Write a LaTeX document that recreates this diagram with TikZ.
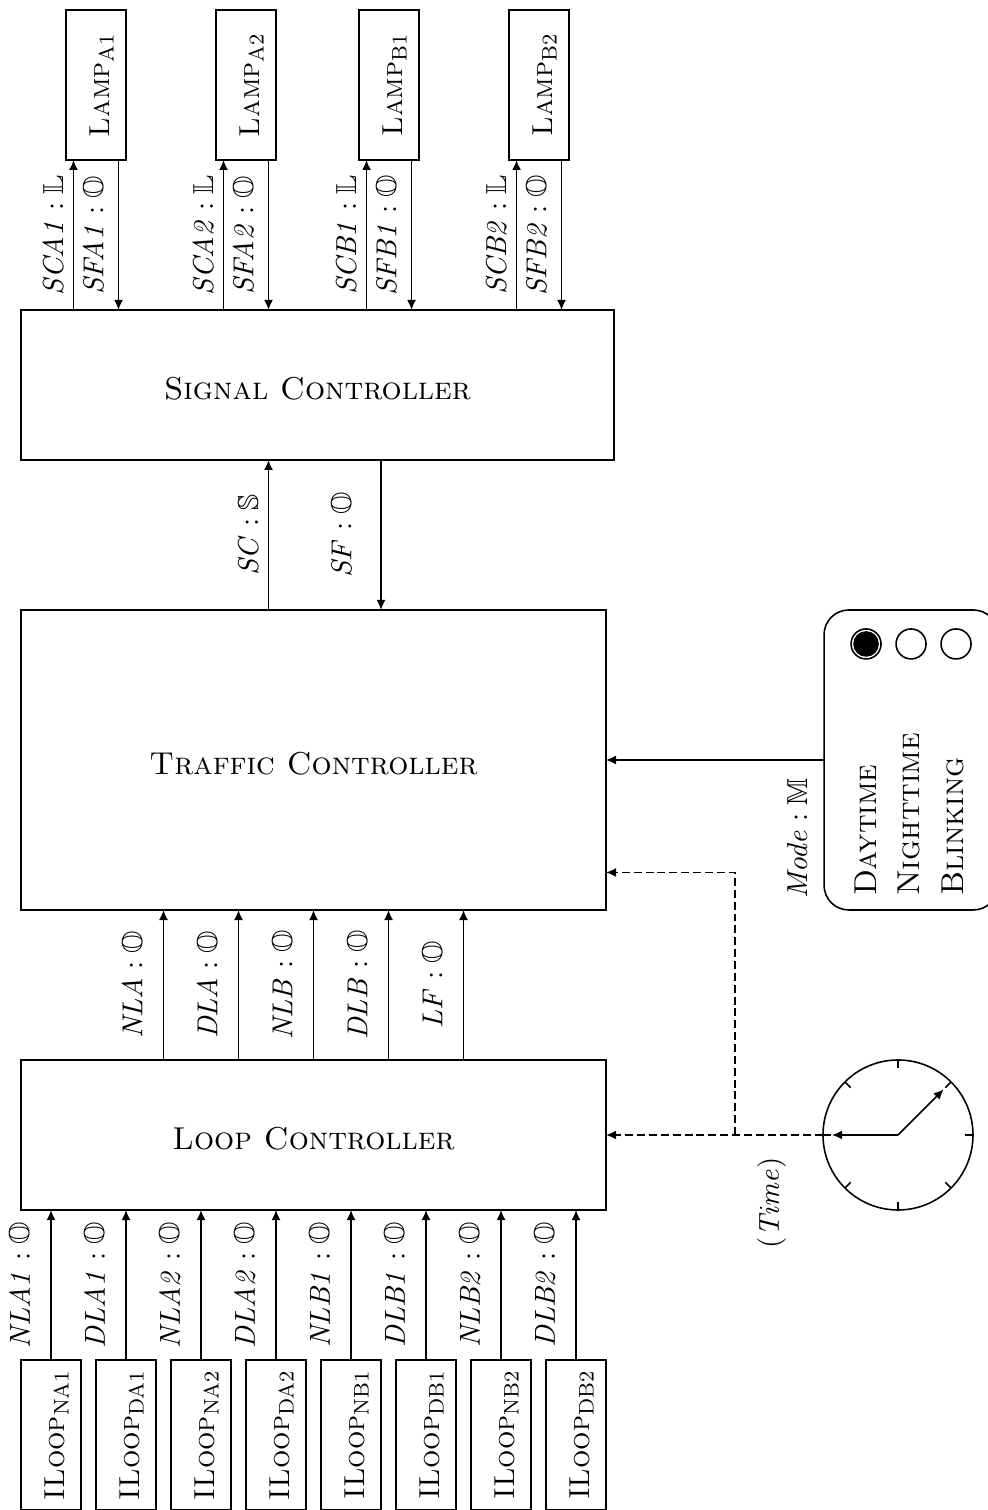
\documentclass[tikz,border=0pt,11pt]{standalone}
\usepackage{amsmath,amssymb}
\usepackage{tikz}
\usetikzlibrary{arrows.meta,positioning}
\tikzset{
  block/.style={draw,semithick,align=center,outer sep=0pt},
  lamp/.style={block,minimum width=2cm,minimum height=.8cm,text height=10pt,text depth=0pt},
  ctrl/.style={block,rotate=-90,minimum width=7.8cm,font=\large,text height=11pt,text depth=0pt},
  dial/.style={draw,semithick,circle,inner sep=0pt,minimum size=.4cm,outer sep=0pt},
  choice/.style={anchor=base west,inner sep=0pt,font=\large},
  flow/.style={-{Latex[length=3.8pt,width=3.4pt]},semithick},
  timeflow/.style={flow,dash pattern=on 3pt off 1.5pt},
  tick/.style={semithick},
  sig/.style={midway,above}
}
\begin{document}
\begin{tikzpicture}[rotate=90,transform shape,node distance=2mm]
  \useasboundingbox (0,0) rectangle (20.133,-13.173);
  \node[lamp] (loopNA1) at (1,-.68) {\textsc{ILoop}$_{\mathrm{NA1}}$};
  \node[lamp,below=of loopNA1] (loopDA1) {\textsc{ILoop}$_{\mathrm{DA1}}$};
  \node[lamp,below=of loopDA1] (loopNA2) {\textsc{ILoop}$_{\mathrm{NA2}}$};
  \node[lamp,below=of loopNA2] (loopDA2) {\textsc{ILoop}$_{\mathrm{DA2}}$};
  \node[lamp,below=of loopDA2] (loopNB1) {\textsc{ILoop}$_{\mathrm{NB1}}$};
  \node[lamp,below=of loopNB1] (loopDB1) {\textsc{ILoop}$_{\mathrm{DB1}}$};
  \node[lamp,below=of loopDB1] (loopNB2) {\textsc{ILoop}$_{\mathrm{NB2}}$};
  \node[lamp,below=of loopNB2] (loopDB2) {\textsc{ILoop}$_{\mathrm{DB2}}$};
  \node[ctrl,minimum height=2cm] (loop) at (5,-4.18) {\textsc{Loop Controller}};
  \node[ctrl,minimum height=4cm] (traffic) at (10,-4.18) {\textsc{Traffic Controller}};
  \node[ctrl,minimum width=7.907cm,minimum height=2cm] (signal) at (15,-4.233) {\textsc{Signal Controller}};
  \node[lamp] (lampA1) at (19,-1.28) {\textsc{Lamp}$_{\mathrm{A1}}$};
  \node[lamp,below=1.2cm of lampA1] (lampA2) {\textsc{Lamp}$_{\mathrm{A2}}$};
  \node[lamp,below=1.107cm of lampA2] (lampB1) {\textsc{Lamp}$_{\mathrm{B1}}$};
  \node[lamp,below=1.2cm of lampB1] (lampB2) {\textsc{Lamp}$_{\mathrm{B2}}$};
  % mode selector
  \node[block,minimum width=4cm,minimum height=2.32cm,rounded corners=.33cm] (mode) at (10,-12.147) {};
  \node[dial] (night) at (11.547,-12.147) {};
  \node[dial,above=of night] (day) {};
  \node[dial,below=of night] (blink) {};
  \node[dial,fill=black,minimum size=.32cm] (dayon) at (day) {};
  \node[choice] (dayname) at (8.18,-11.693) {\textsc{Daytime}};
  \node[choice] (nightname) at (8.18,-12.253) {\textsc{Nighttime}};
  \node[choice] (blinkname) at (8.18,-12.84) {\textsc{Blinking}};
  \node[anchor=east] (modename) at (9.893,-10.627) {$\mathit{Mode}:\mathbb{M}$};
  % clock
  \node[dial,minimum size=2cm] (clock) at (5,-11.973) {};
  \coordinate (bighand) at ([shift={(90:.88)}]clock.center);
  \coordinate (smallhand) at ([shift={(-45:.86)}]clock.center);
  \coordinate (branch) at (5,-9.8);
  \node[anchor=east] (timename) at (4.84,-10.29) {$(\mathit{Time})$};
  \draw[tick] (clock.0) -- ++(0:-.107);
  \draw[tick] (clock.45) -- ++(45:-.107);
  \draw[tick] (clock.90) -- ++(90:-.107);
  \draw[tick] (clock.135) -- ++(135:-.107);
  \draw[tick] (clock.180) -- ++(180:-.107);
  \draw[tick] (clock.225) -- ++(225:-.107);
  \draw[tick] (clock.270) -- ++(270:-.107);
  \draw[tick] (clock.315) -- ++(315:-.107);
  \draw[flow] (clock.center) -- (bighand);
  \draw[flow] (clock.center) -- (smallhand);
  \draw[timeflow] (clock.north) -- (loop.east);
  \draw[timeflow] (branch) -| ([xshift=-1.5cm]traffic.east);
  \draw[flow] (mode.north) -- (traffic.east);
  % loops to loop controller
  \draw[flow] (loopNA1.east) -- (loopNA1.east -| loop.south) node[sig,above=2.2pt] {$\mathit{NLA1}:\mathbb{O}$};
  \draw[flow] (loopDA1.east) -- (loopDA1.east -| loop.south) node[sig,above=2.2pt] {$\mathit{DLA1}:\mathbb{O}$};
  \draw[flow] (loopNA2.east) -- (loopNA2.east -| loop.south) node[sig,above=2.2pt] {$\mathit{NLA2}:\mathbb{O}$};
  \draw[flow] (loopDA2.east) -- (loopDA2.east -| loop.south) node[sig,above=2.2pt] {$\mathit{DLA2}:\mathbb{O}$};
  \draw[flow] (loopNB1.east) -- (loopNB1.east -| loop.south) node[sig,above=2.2pt] {$\mathit{NLB1}:\mathbb{O}$};
  \draw[flow] (loopDB1.east) -- (loopDB1.east -| loop.south) node[sig,above=2.2pt] {$\mathit{DLB1}:\mathbb{O}$};
  \draw[flow] (loopNB2.east) -- (loopNB2.east -| loop.south) node[sig,above=2.2pt] {$\mathit{NLB2}:\mathbb{O}$};
  \draw[flow] (loopDB2.east) -- (loopDB2.east -| loop.south) node[sig,above=2.2pt] {$\mathit{DLB2}:\mathbb{O}$};
  % loop controller to traffic controller
  \draw[flow] ([yshift=2cm]loop.north) -- ([yshift=2cm]traffic.south) node[sig,above=2.2pt] {$\mathit{NLA}:\mathbb{O}$};
  \draw[flow] ([yshift=1cm]loop.north) -- ([yshift=1cm]traffic.south) node[sig,above=2.2pt] {$\mathit{DLA}:\mathbb{O}$};
  \draw[flow] (loop.north) -- (traffic.south) node[sig,above=2.2pt] {$\mathit{NLB}:\mathbb{O}$};
  \draw[flow] ([yshift=-1cm]loop.north) -- ([yshift=-1cm]traffic.south) node[sig,above=2.2pt] {$\mathit{DLB}:\mathbb{O}$};
  \draw[flow] ([yshift=-2cm]loop.north) -- ([yshift=-2cm]traffic.south) node[sig,above=2.2pt] {$\mathit{LF}:\mathbb{O}$};
  % traffic controller and signal controller
  \draw[flow] ([yshift=.6cm]traffic.north) -- ([yshift=.6cm]traffic.north -| signal.south) node[sig] {$\mathit{SC}:\mathbb{S}$};
  \draw[flow] ([yshift=-.9cm]traffic.north -| signal.south) -- ([yshift=-.9cm]traffic.north) node[sig,above=5.5pt] {$\mathit{SF}:\mathbb{O}$};
  % signal controller and lamps
  \draw[flow] ([yshift=.3cm]lampA1.west -| signal.north) -- ([yshift=.3cm]lampA1.west) node[sig] {$\mathit{SCA1}:\mathbb{L}$};
  \draw[flow] ([yshift=-.3cm]lampA1.west) -- ([yshift=-.3cm]lampA1.west -| signal.north) node[sig] {$\mathit{SFA1}:\mathbb{O}$};
  \draw[flow] ([yshift=.3cm]lampA2.west -| signal.north) -- ([yshift=.3cm]lampA2.west) node[sig] {$\mathit{SCA2}:\mathbb{L}$};
  \draw[flow] ([yshift=-.3cm]lampA2.west) -- ([yshift=-.3cm]lampA2.west -| signal.north) node[sig] {$\mathit{SFA2}:\mathbb{O}$};
  \draw[flow] ([yshift=.3cm]lampB1.west -| signal.north) -- ([yshift=.3cm]lampB1.west) node[sig] {$\mathit{SCB1}:\mathbb{L}$};
  \draw[flow] ([yshift=-.3cm]lampB1.west) -- ([yshift=-.3cm]lampB1.west -| signal.north) node[sig] {$\mathit{SFB1}:\mathbb{O}$};
  \draw[flow] ([yshift=.3cm]lampB2.west -| signal.north) -- ([yshift=.3cm]lampB2.west) node[sig] {$\mathit{SCB2}:\mathbb{L}$};
  \draw[flow] ([yshift=-.3cm]lampB2.west) -- ([yshift=-.3cm]lampB2.west -| signal.north) node[sig] {$\mathit{SFB2}:\mathbb{O}$};
\end{tikzpicture}
\end{document}
